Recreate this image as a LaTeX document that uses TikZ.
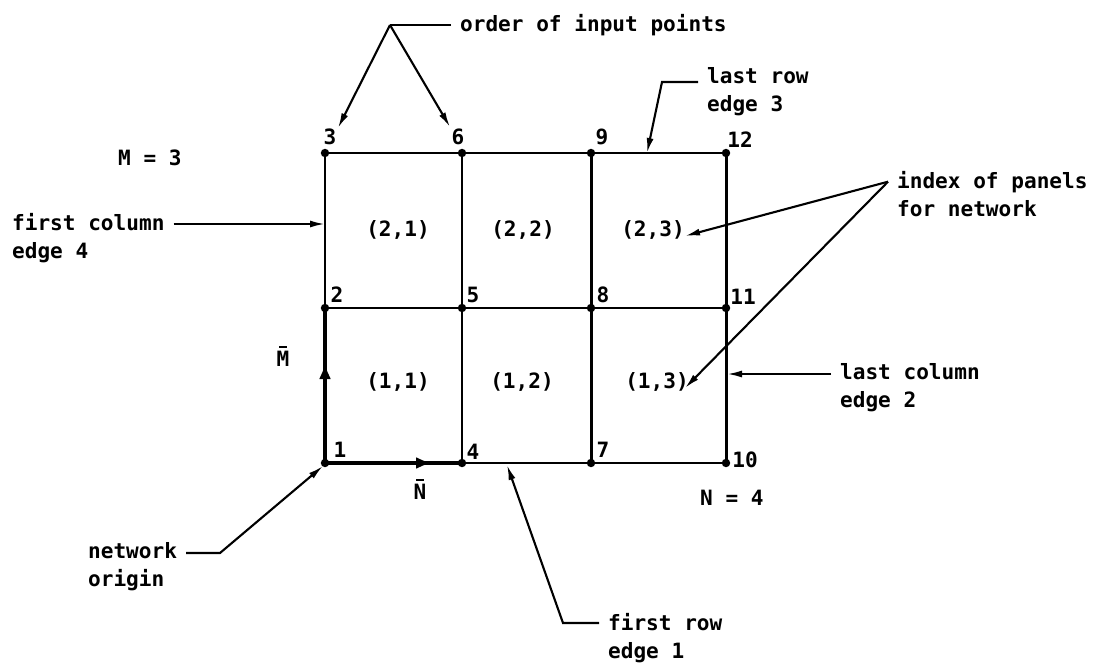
\documentclass[tikz,border=0pt]{standalone}
\usepackage{fontspec}
\setmonofont{DejaVu Sans Mono}
\usetikzlibrary{arrows.meta}

\begin{document}
\begin{tikzpicture}[x=0.02cm, y=-0.02cm, >={Latex[length=3mm,width=1.4mm]},
    txt/.style={font=\ttfamily\bfseries\fontsize{12}{16}\selectfont, align=left, inner xsep=5pt, inner ysep=1pt},
    num/.style={font=\ttfamily\bfseries\fontsize{12}{14}\selectfont, inner sep=0pt},
    gridline/.style={line width=1.7pt},
    thickedge/.style={line width=2.8pt},
    lead/.style={line width=1.2pt}]
  \useasboundingbox (0,0) rectangle (1095,666);
  % grid points, numbered up each column
  \foreach \x [count=\i from 0] in {325,462,591,726} {
    \foreach \y [count=\j] in {463,308,153} {
      \pgfmathtruncatemacro\k{3*\i+\j}
      \coordinate (p\k) at (\x,\y);
    }
  }
  % panels
  \draw[gridline] (p3) -- (p12) (p2) -- (p11) (p1) -- (p10)
        (p1) -- (p3) (p4) -- (p6) (p7) -- (p9) (p10) -- (p12);
  \draw[thickedge] (p2) -- (p1) -- (p4);
  \foreach \k in {1,...,12} \fill (p\k) circle (2.4pt);
  % point numbers
  \foreach \k/\x/\y in {1/340/450, 2/337/295, 3/330/137, 4/473/452, 5/473/295, 6/458/137,
                        7/603/450, 8/603/295, 9/602/137, 10/745/460, 11/743/297, 12/740/140}
    \node[num] (n\k) at (\x,\y) {\k};
  % panel index
  \foreach \r/\c/\x/\y in {1/1/398/382, 1/2/522/382, 1/3/657/382,
                           2/1/398/230, 2/2/523/230, 2/3/653/230}
    \node[txt] (c\r\c) at (\x,\y) {(\r,\c)};
  % directions
  \coordinate (mtip) at (325,363);
  \coordinate (ntip) at (432,463);
  \draw[thickedge, -{Latex[length=3.2mm,width=2.4mm]}] (p1) -- (mtip);
  \draw[thickedge, -{Latex[length=3.2mm,width=2.4mm]}] (p1) -- (ntip);
  \node[txt] (mbar) at (283,359) {M};
  \node[txt] (nbar) at (420,492) {N};
  \draw[line width=1.2pt] ([xshift=-2.2pt,yshift=1.5pt]mbar.north) -- ([xshift=2.2pt,yshift=1.5pt]mbar.north);
  \draw[line width=1.2pt] ([xshift=-2.2pt,yshift=1.5pt]nbar.north) -- ([xshift=2.2pt,yshift=1.5pt]nbar.north);
  \node[txt, anchor=west] (mcount) at (109,158) {M = 3};
  \node[txt, anchor=west] (ncount) at (691,498) {N = 4};
  % order of input points
  \node[txt, anchor=west] (order) at (451,25) {order of input points};
  \coordinate (oc) at (390,25);
  \coordinate (t3) at (338,128);
  \coordinate (t6) at (450,127);
  \draw[lead] (order.west) -- (oc);
  \draw[lead, ->] (oc) -- (t3);
  \draw[lead, ->] (oc) -- (t6);
  % edges
  \node[txt, anchor=west] (lastrow) at (698,92) {last row\\edge 3};
  \coordinate (lrc) at (662,82);
  \coordinate (e3) at (647,153);
  \draw[lead, ->] (lastrow.west |- lrc) -- (lrc) -- (e3);
  \node[txt, anchor=west] (firstcol) at (3,238) {first column\\edge 4};
  \coordinate (e4) at (325,224);
  \draw[lead, ->] (firstcol.east |- e4) -- (e4);
  \node[txt, anchor=west] (lastcol) at (831,388) {last column\\edge 2};
  \coordinate (e2) at (727,374);
  \draw[lead, ->] (lastcol.west |- e2) -- (e2);
  \node[txt, anchor=west] (firstrow) at (599,638) {first row\\edge 1};
  \coordinate (frc) at (563,623);
  \coordinate (e1) at (507,465);
  \draw[lead, ->] (firstrow.west |- frc) -- (frc) -- (e1);
  % panel index and origin
  \node[txt, anchor=west] (index) at (888,194) {index of panels\\for network};
  \coordinate (ixc) at ([yshift=7pt]index.west);
  \coordinate (t23) at (685,236);
  \coordinate (t13) at (685,388);
  \draw[lead, ->] (ixc) -- (t23);
  \draw[lead, ->] (ixc) -- (t13);
  \node[txt, anchor=west] (origin) at (79,567) {network\\origin};
  \coordinate (noc) at (220,553);
  \coordinate (o1) at (323,466);
  \draw[lead, ->] (origin.east |- noc) -- (noc) -- (o1);
\end{tikzpicture}
\end{document}
